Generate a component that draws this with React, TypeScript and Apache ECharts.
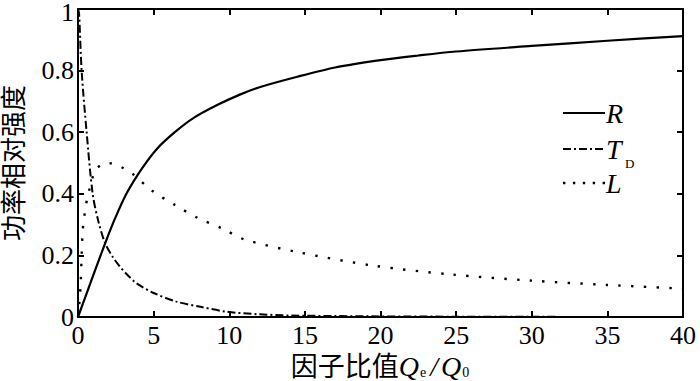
import React, { useEffect, useRef } from "react";
import * as echarts from "echarts";

const xTicks = [0, 5, 10, 15, 20, 25, 30, 35, 40];
const yTicks = [0, 0.2, 0.4, 0.6, 0.8, 1];

const rX = [0, 1, 1.8, 2.45, 3.2, 4.2, 5.2, 6.4, 7.6, 9.2, 10.7, 12, 14.5, 17, 20, 22.5, 25, 30, 35, 40];
const rY = [0, 0.134, 0.24, 0.32, 0.4, 0.48, 0.545, 0.6, 0.645, 0.688, 0.722, 0.746, 0.78, 0.81, 0.834, 0.849, 0.862, 0.88, 0.897, 0.912];

const tdX = [0, 0.07, 0.24, 0.57, 0.97, 1.35, 1.79, 2.3, 2.78, 3.3, 3.88, 5, 6.5, 8.1, 9.85, 11.9, 14, 17, 20, 25, 30, 40];
const tdY = [1, 0.985, 0.8, 0.6, 0.4, 0.31, 0.24, 0.195, 0.163, 0.135, 0.109, 0.078, 0.05, 0.033, 0.017, 0.009, 0.005, 0.003, 0.002, 0.001, 0.0005, 0];

const lX = [0, 0.1, 0.18, 0.24, 0.31, 0.4, 0.53, 0.68, 1.2, 2.0, 2.8, 3.6, 4.9, 6.4, 7.9, 9.5, 11, 14.4, 19.5, 24.7, 30, 35, 40];
const lY = [0, 0.05, 0.11, 0.2, 0.28, 0.32, 0.364, 0.4, 0.48, 0.5, 0.488, 0.465, 0.41, 0.364, 0.322, 0.288, 0.252, 0.212, 0.167, 0.138, 0.118, 0.104, 0.092];

const SERIF = "Liberation Serif, DejaVu Serif, serif";
const CJK = "Liberation Serif, Noto Sans CJK SC, serif";

const zip = (xs: number[], ys: number[]) => xs.map((x, i) => [x, ys[i]]);

export default function App() {
  const ref = useRef<HTMLDivElement>(null);
  useEffect(() => {
    if (!ref.current) return;
    const chart = echarts.init(ref.current, undefined, { renderer: "svg" });
    const axisCommon = {
      type: "value" as const,
      axisLine: { show: true, onZero: false, lineStyle: { color: "#000", width: 2 } },
      axisTick: { show: true, inside: true, length: 6, lineStyle: { color: "#000", width: 2 } },
      splitLine: { show: false },
    };
    chart.setOption({
      animation: false,
      backgroundColor: "#fff",
      grid: { left: 78, right: 17, top: 9, bottom: 64, containLabel: false, outerBoundsMode: "none" },
      xAxis: [
        {
          ...axisCommon,
          position: "bottom",
          min: xTicks[0],
          max: xTicks[xTicks.length - 1],
          interval: 5,
          axisLabel: { color: "#000", fontSize: 26, fontFamily: SERIF, margin: 5 },
          name: "{cn|因子比值}{it|Q}{sub|e}{sl|/}{it|Q}{sub|0}",
          nameLocation: "middle",
          nameGap: 33,
          nameTextStyle: {
            rich: {
              cn: { fontSize: 27, fontFamily: CJK, color: "#000", lineHeight: 26 },
              it: { fontSize: 28, fontFamily: SERIF, fontStyle: "italic", color: "#000", lineHeight: 26 },
              sl: { fontSize: 28, fontFamily: SERIF, fontStyle: "italic", color: "#000", lineHeight: 26, padding: [0, 3, 0, 3] },
              sub: { fontSize: 14, fontFamily: SERIF, color: "#000", verticalAlign: "bottom", lineHeight: 14, padding: [0, 1, 0, 1] },
            },
          },
        },
        {
          ...axisCommon,
          position: "top",
          min: xTicks[0],
          max: xTicks[xTicks.length - 1],
          interval: 5,
          axisLabel: { show: false },
        },
      ],
      yAxis: [
        {
          ...axisCommon,
          position: "left",
          min: yTicks[0],
          max: yTicks[yTicks.length - 1],
          interval: 0.2,
          axisLabel: {
            color: "#000",
            fontSize: 26,
            fontFamily: SERIF,
            margin: 4,
            lineHeight: 18,
            formatter: (v: number) => (v >= 1 ? "{t|1}" : String(Number(v.toFixed(1)))),
            rich: {
              t: { fontSize: 26, fontFamily: SERIF, color: "#000", lineHeight: 18, padding: [6, 0, 0, 0] },
            },
          },
          name: "功率相对强度",
          nameLocation: "middle",
          nameGap: 51,
          nameTextStyle: { fontSize: 26, fontFamily: CJK, color: "#000" },
        },
        {
          ...axisCommon,
          position: "right",
          min: yTicks[0],
          max: yTicks[yTicks.length - 1],
          interval: 0.2,
          axisLabel: { show: false },
        },
      ],
      series: [
        {
          name: "R",
          type: "line",
          data: zip(rX, rY),
          showSymbol: false,
          smooth: 0.3,
          lineStyle: { color: "#000", width: 2.2, type: "solid" },
        },
        {
          name: "TD",
          type: "line",
          data: zip(tdX, tdY),
          showSymbol: false,
          smooth: 0.3,
          lineStyle: { color: "#000", width: 2, type: [8, 3, 2, 3] },
        },
        {
          name: "L",
          type: "line",
          data: zip(lX, lY),
          showSymbol: false,
          smooth: 0.3,
          lineStyle: { color: "#000", width: 2.4, type: [2.4, 10.3] },
        },
      ],
      graphic: [
        { type: "line", shape: { x1: 563, y1: 113, x2: 605, y2: 113 }, style: { stroke: "#000", lineWidth: 2.2 } },
        { type: "line", shape: { x1: 563, y1: 149, x2: 605, y2: 149 }, style: { stroke: "#000", lineWidth: 2, lineDash: [8, 3, 2, 3] } },
        { type: "line", shape: { x1: 563, y1: 183, x2: 605, y2: 183 }, style: { stroke: "#000", lineWidth: 2.4, lineDash: [2.4, 7.5] } },
        {
          type: "text", x: 606, y: 113,
          style: { text: "R", fontSize: 28, fontFamily: SERIF, fontStyle: "italic", fill: "#000", verticalAlign: "middle" },
        },
        {
          type: "text", x: 606, y: 149,
          style: { text: "T", fontSize: 28, fontFamily: SERIF, fontStyle: "italic", fill: "#000", verticalAlign: "middle" },
        },
        {
          type: "text", x: 625, y: 163,
          style: { text: "D", fontSize: 13, fontFamily: SERIF, fill: "#000", verticalAlign: "middle" },
        },
        {
          type: "text", x: 606, y: 183,
          style: { text: "L", fontSize: 28, fontFamily: SERIF, fontStyle: "italic", fill: "#000", verticalAlign: "middle" },
        },
      ],
    });
    return () => chart.dispose();
  }, []);
  return <div ref={ref} style={{ width: 700, height: 381, position: "absolute", left: 0, top: 0 }} />;
}
